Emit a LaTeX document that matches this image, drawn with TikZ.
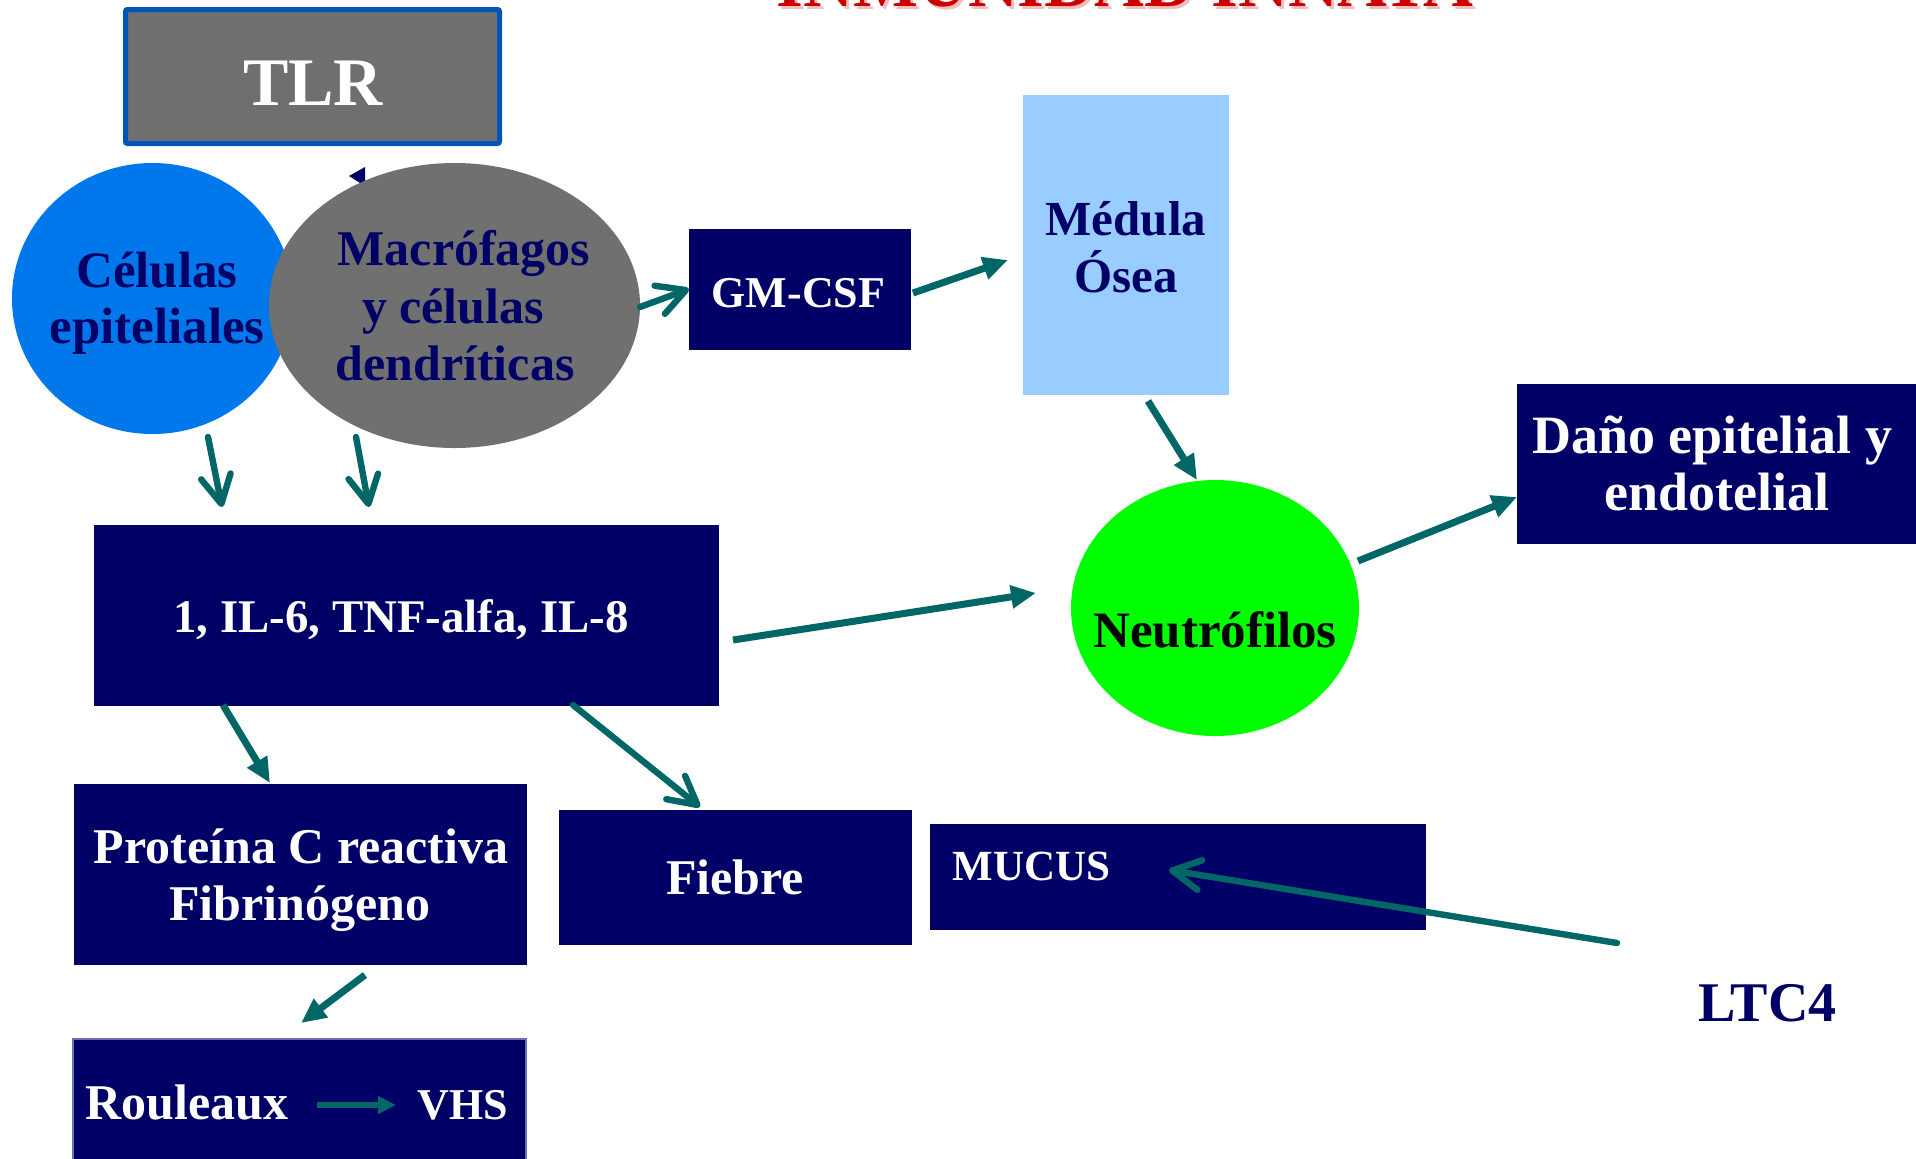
\documentclass[tikz,border=0pt]{standalone}
\usepackage{fontspec}
\setmainfont{Liberation Serif}
\usetikzlibrary{arrows.meta,shapes.geometric}
\definecolor{navy}{RGB}{0,0,102}
\definecolor{teal2}{RGB}{0,102,102}
\definecolor{epiblue}{RGB}{0,120,235}
\definecolor{macgray}{RGB}{112,112,112}
\definecolor{tlrgray}{RGB}{111,111,111}
\definecolor{tlrblue}{RGB}{0,85,185}
\definecolor{medblue}{RGB}{153,204,255}
\definecolor{neugreen}{RGB}{0,255,0}
\definecolor{titlered}{RGB}{204,0,0}
\definecolor{shadowred}{RGB}{240,190,190}
\definecolor{rouborder}{RGB}{110,110,180}
\newcommand\myfs[1]{\fontsize{#1}{#1}\selectfont\bfseries}
\begin{document}
\begin{tikzpicture}[x=0.5pt,y=-0.5pt,
  navybox/.style={rectangle,fill=navy,inner sep=0pt,draw=none},
  oval/.style={ellipse,inner sep=0pt},
  txt/.style={anchor=base,inner sep=0pt},
  txtw/.style={anchor=base west,inner sep=0pt},
  fillarrow/.style={draw=teal2,line width=3.5pt,-{Triangle[length=12.5pt,width=11pt]}},
  barbarrow/.style={draw=teal2,line width=3.2pt,line cap=round,-{Straight Barb[length=14pt,width=15pt,round]}},
  smallarrow/.style={draw=teal2,line width=3pt,-{Triangle[length=9pt,width=8.5pt]}}
]
\useasboundingbox (0,0) rectangle (1916,1158);
\fill[white] (0,0) rectangle (1916,1158);

% title (cut off at top)
\node[txt,text=shadowred,font=\myfs{34.5pt}] (titleshadow) at (1128,9) {INMUNIDAD INNATA};
\node[txt,text=titlered,font=\myfs{34.5pt}] (title) at (1125,6) {INMUNIDAD INNATA};

% TLR
\node[rectangle,fill=tlrgray,draw=tlrblue,line width=2.5pt,rounded corners=1pt,
      minimum width=187pt,minimum height=67pt,inner sep=0pt] (tlr) at (312.5,76.5) {};
\node[txt,text=white,font=\myfs{34pt}] (tlrt) at (313,105) {TLR};

% small hidden arrowhead
\fill[navy] (349,176) -- (365,167) -- (365,186) -- cycle;

% ellipses
\node[oval,fill=epiblue,minimum width=140.5pt,minimum height=135.5pt] (epi) at (152.5,298.5) {};
\node[oval,fill=macgray,minimum width=185.5pt,minimum height=142.5pt] (mac) at (454.5,305.5) {};
\node[txt,text=navy,font=\myfs{25.5pt}] (epi1) at (157,287) {Células};
\node[txt,text=navy,font=\myfs{25.5pt}] (epi2) at (157,343) {epiteliales};
\node[txt,text=navy,font=\myfs{25pt}] (mac1) at (464,265) {Macrófagos};
\node[txt,text=navy,font=\myfs{25pt}] (mac2) at (453,323) {y células};
\node[txt,text=navy,font=\myfs{25pt}] (mac3) at (455,380) {dendríticas};

% GM-CSF
\node[navybox,minimum width=111pt,minimum height=60.5pt] (gm) at (800,289.5) {};
\node[txt,text=white,font=\myfs{22pt}] (gmt) at (798.5,307) {GM-CSF};

% Medula
\node[rectangle,fill=medblue,inner sep=0pt,minimum width=103pt,minimum height=150pt] (med) at (1126,245) {};
\node[txt,text=navy,font=\myfs{24.5pt}] (med1) at (1126,235) {Médula};
\node[txt,text=navy,font=\myfs{24.5pt}] (med2) at (1126,292) {Ósea};

% IL box
\node[navybox,minimum width=312.5pt,minimum height=90.5pt] (il) at (406.5,615.5) {};
\node[txt,text=white,font=\myfs{23.4pt}] (ilt) at (401,632) {1, IL-6, TNF-alfa, IL-8};

% Neutrofilos
\node[oval,fill=neugreen,minimum width=144pt,minimum height=128pt] (neu) at (1215,608) {};
\node[txt,text=black,font=\myfs{25.5pt}] (neut) at (1215,647) {Neutrófilos};

% Dano
\node[navybox,minimum width=201.5pt,minimum height=80pt] (dano) at (1718.5,464) {};
\node[txt,text=white,font=\myfs{27pt}] (dano1) at (1712,453) {Daño epitelial y};
\node[txt,text=white,font=\myfs{27pt}] (dano2) at (1717,510) {endotelial};

% Proteina
\node[navybox,minimum width=226.5pt,minimum height=90.5pt] (prot) at (300.5,874.5) {};
\node[txt,text=white,font=\myfs{25pt}] (prot1) at (301,863) {Proteína C reactiva};
\node[txt,text=white,font=\myfs{25pt}] (prot2) at (300,920) {Fibrinógeno};

% Fiebre
\node[navybox,minimum width=176.5pt,minimum height=67.5pt] (fie) at (735.5,877.5) {};
\node[txt,text=white,font=\myfs{25pt}] (fiet) at (735,894) {Fiebre};

% MUCUS
\node[navybox,minimum width=248pt,minimum height=53pt] (muc) at (1178,877) {};
\node[txtw,text=white,font=\myfs{21.5pt}] (muct) at (952,880) {MUCUS};

% Rouleaux
\node[navybox,draw=rouborder,line width=0.75pt,minimum width=226.5pt,minimum height=71pt] (rou) at (299.5,1110) {};
\node[txtw,text=white,font=\myfs{25pt}] (rout) at (85,1119) {Rouleaux};
\node[txtw,text=white,font=\myfs{22pt}] (vhs) at (417,1119) {VHS};

% LTC4
\node[txtw,text=navy,font=\myfs{28pt}] (ltc) at (1698,1021) {LTC4};

% connector end points
\coordinate (a1s) at (208,437);  \coordinate (a1e) at (222,507);
\coordinate (a2s) at (356,437);  \coordinate (a2e) at (369,507);
\coordinate (a3s) at (640,307);  \coordinate (a3e) at (689,289);
\coordinate (a4s) at (913,293);  \coordinate (a4e) at (1008,260);
\coordinate (a5s) at (1148,401); \coordinate (a5e) at (1197,480);
\coordinate (a6s) at (733,640);  \coordinate (a6e) at (1036,593);
\coordinate (a7s) at (1358,561); \coordinate (a7e) at (1517,497);
\coordinate (a8s) at (223,705);  \coordinate (a8e) at (270,783);
\coordinate (a9s) at (573,705);  \coordinate (a9e) at (700,807);
\coordinate (a10s) at (365,975); \coordinate (a10e) at (301,1023);
\coordinate (a11s) at (1617,943); \coordinate (a11e) at (1169,870);
\coordinate (a12s) at (317,1105); \coordinate (a12e) at (396,1105);

\draw[barbarrow] (a1s) -- (a1e);
\draw[barbarrow] (a2s) -- (a2e);
\draw[barbarrow] (a3s) -- (a3e);
\draw[fillarrow] (a4s) -- (a4e);
\draw[fillarrow] (a5s) -- (a5e);
\draw[fillarrow] (a6s) -- (a6e);
\draw[fillarrow] (a7s) -- (a7e);
\draw[fillarrow] (a8s) -- (a8e);
\draw[barbarrow] (a9s) -- (a9e);
\draw[fillarrow] (a10s) -- (a10e);
\draw[barbarrow] (a11s) -- (a11e);
\draw[smallarrow] (a12s) -- (a12e);
\end{tikzpicture}
\end{document}
